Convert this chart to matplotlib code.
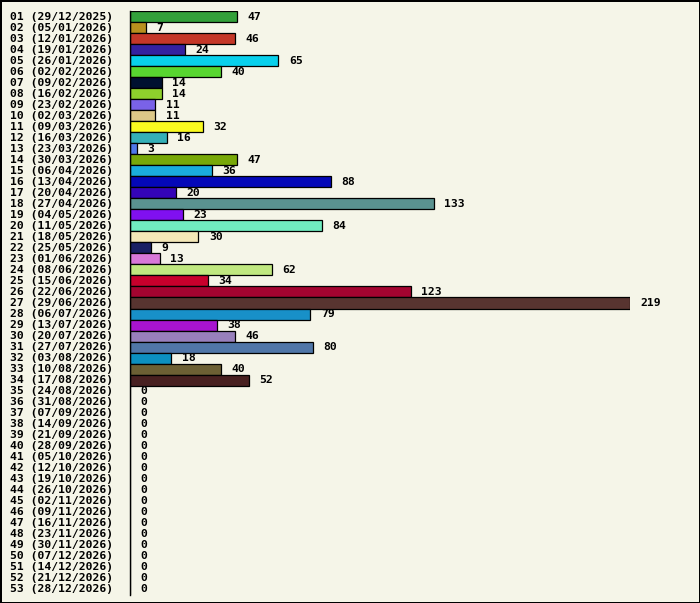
import matplotlib.pyplot as plt
from matplotlib.transforms import blended_transform_factory

OUT_FILE = "out.png"

week_labels = [
    "01 (29/12/2025)", "02 (05/01/2026)", "03 (12/01/2026)", "04 (19/01/2026)",
    "05 (26/01/2026)", "06 (02/02/2026)", "07 (09/02/2026)", "08 (16/02/2026)",
    "09 (23/02/2026)", "10 (02/03/2026)", "11 (09/03/2026)", "12 (16/03/2026)",
    "13 (23/03/2026)", "14 (30/03/2026)", "15 (06/04/2026)", "16 (13/04/2026)",
    "17 (20/04/2026)", "18 (27/04/2026)", "19 (04/05/2026)", "20 (11/05/2026)",
    "21 (18/05/2026)", "22 (25/05/2026)", "23 (01/06/2026)", "24 (08/06/2026)",
    "25 (15/06/2026)", "26 (22/06/2026)", "27 (29/06/2026)", "28 (06/07/2026)",
    "29 (13/07/2026)", "30 (20/07/2026)", "31 (27/07/2026)", "32 (03/08/2026)",
    "33 (10/08/2026)", "34 (17/08/2026)", "35 (24/08/2026)", "36 (31/08/2026)",
    "37 (07/09/2026)", "38 (14/09/2026)", "39 (21/09/2026)", "40 (28/09/2026)",
    "41 (05/10/2026)", "42 (12/10/2026)", "43 (19/10/2026)", "44 (26/10/2026)",
    "45 (02/11/2026)", "46 (09/11/2026)", "47 (16/11/2026)", "48 (23/11/2026)",
    "49 (30/11/2026)", "50 (07/12/2026)", "51 (14/12/2026)", "52 (21/12/2026)",
    "53 (28/12/2026)",
]

counts = [
    47, 7, 46, 24, 65, 40, 14, 14, 11, 11, 32, 16, 3, 47, 36, 88, 20, 133,
    23, 84, 30, 9, 13, 62, 34, 123, 219, 79, 38, 46, 80, 18, 40, 52,
    0, 0, 0, 0, 0, 0, 0, 0, 0, 0, 0, 0, 0, 0, 0, 0, 0, 0, 0,
]

bar_colors = [
    "#33a03a", "#b8901e", "#c43728", "#3421a0", "#08d0ec", "#58d630",
    "#001030", "#8ed02c", "#7a62e8", "#dcc888", "#fafa20", "#35b0b8",
    "#5078e8", "#78a808", "#1aacdc", "#0408b8", "#3404b8", "#5a9290",
    "#8010f0", "#70ecc0", "#f4e8b8", "#1a2064", "#d878d8", "#c0e880",
    "#c8002c", "#a40430", "#583430", "#1890c8", "#a814d0", "#9880bc",
    "#5076a8", "#0c90c0", "#6c6034", "#482020",
]
# weeks without data just repeat a neutral colour (bars have zero width)
bar_colors = bar_colors + ["#808080"] * (len(counts) - len(bar_colors))

BG = "#f5f5e8"
W, H = 700, 603
FONT = dict(family="DejaVu Sans Mono", weight="bold", size=8.2)

fig = plt.figure(figsize=(W / 100, H / 100), dpi=100, facecolor=BG)
fig.patch.set_edgecolor("black")
fig.patch.set_linewidth(2)

# axes in pixel terms: bars start at x=130, 219 ends at x=630, rows from y=11 to 595
left, right = 130, 630
top, bottom = 11, 595
ax = fig.add_axes([left / W, 1 - bottom / H, (right - left) / W, (bottom - top) / H])
ax.set_facecolor(BG)

rows = list(range(len(counts)))
ax.barh(rows, counts, height=1.0, color=bar_colors, edgecolor="black", linewidth=0.9)

ax.set_xlim(0, max(counts))
ax.set_ylim(len(counts) - 0.5, -0.5)

for side in ["top", "right", "bottom"]:
    ax.spines[side].set_visible(False)
ax.spines["left"].set_linewidth(1.0)
ax.set_xticks([])
ax.set_yticks([])

label_tf = blended_transform_factory(fig.transFigure, ax.transData)
for i, (lab, v) in enumerate(zip(week_labels, counts)):
    ax.text(10 / W, i, lab, transform=label_tf, ha="left", va="center", **FONT)
    ax.annotate(str(v), (v, i), xytext=(7.5, 0), textcoords="offset points",
                ha="left", va="center", **FONT)

fig.savefig(OUT_FILE, dpi=100, facecolor=BG, edgecolor="black")
